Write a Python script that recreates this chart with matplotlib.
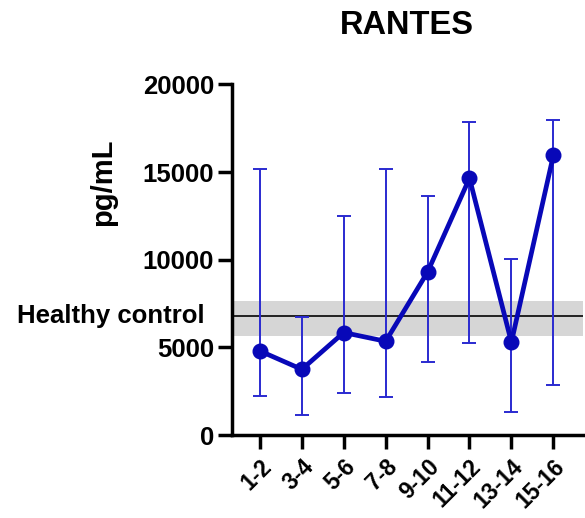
import matplotlib
matplotlib.use("Agg")
import matplotlib.pyplot as plt
import numpy as np

plt.rcParams['font.family'] = ['Liberation Sans', 'DejaVu Sans']

categories = ["1-2", "3-4", "5-6", "7-8", "9-10", "11-12", "13-14", "15-16"]
means = [4800, 3750, 5850, 5350, 9300, 14650, 5300, 15950]
err_low = [2250, 1150, 2400, 2150, 4150, 5250, 1300, 2850]
err_high = [15150, 6750, 12500, 15200, 13650, 17850, 10050, 17950]
control_mean = 6800
control_low = 5650
control_high = 7650
yticks = [0, 5000, 10000, 15000, 20000]

fig = plt.figure(figsize=(5.85, 5.18), dpi=100)
ax = fig.add_axes([0.397, 0.160, 0.599, 0.677])

x = np.arange(len(categories))
ax.axhspan(control_low, control_high, color='#d6d6d6', zorder=1, lw=0)
ax.axhline(control_mean, color='#222222', lw=1.4, zorder=2)

m = np.array(means)
lo = m - np.array(err_low)
hi = np.array(err_high) - m
ax.errorbar(x, m, yerr=[lo, hi], fmt='none', ecolor='#2a2ad0', elinewidth=1.4,
            capsize=5, capthick=1.4, zorder=3)
ax.plot(x, m, color='#0808b8', lw=3.4, marker='o', markersize=10.5, zorder=4)

ax.set_xlim(-0.66, 7.7)
ax.set_ylim(0, 20000)
ax.set_yticks(yticks)
ax.set_yticklabels([str(v) for v in yticks], fontsize=18.5, fontweight='bold')
ax.set_xticks(x)
ax.set_xticklabels(categories, rotation=45, ha='right', rotation_mode='anchor',
                   fontsize=16.5, fontweight='bold')
for s in ['top', 'right']:
    ax.spines[s].set_visible(False)
for s in ['left', 'bottom']:
    ax.spines[s].set_linewidth(2.5)
ax.tick_params(axis='both', width=2.5, length=10, pad=3)
ax.tick_params(axis='x', pad=4)

fig.text(0.176, 0.648, 'pg/mL', rotation=90, ha='center', va='center',
         fontsize=21, fontweight='bold')
ax.text(-0.08, control_mean, 'Healthy control', transform=ax.get_yaxis_transform(),
        ha='right', va='center', fontsize=18.5, fontweight='bold')
fig.text(0.695, 0.950, 'RANTES', ha='center', va='center', fontsize=23.5, fontweight='bold')

fig.savefig('out.png', dpi=100)
